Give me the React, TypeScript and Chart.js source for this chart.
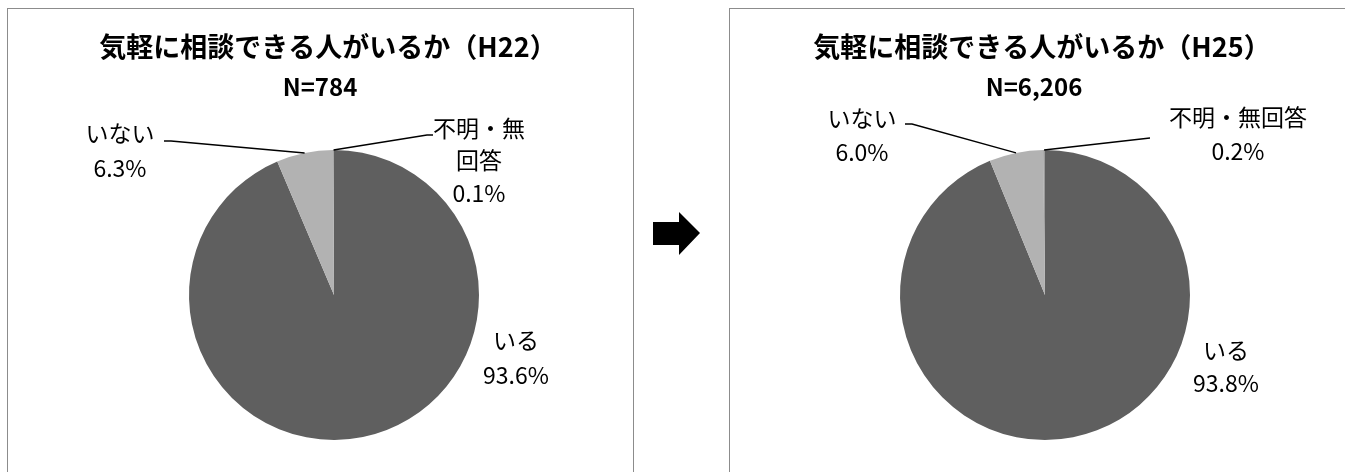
import React, { useEffect, useRef } from "react";
import { Chart, registerables } from "chart.js";

Chart.register(...registerables);

// ---- data ----
const categories = ["いる", "いない", "不明・無回答"];
const valuesH22 = [93.6, 6.3, 0.1];
const valuesH25 = [93.8, 6.0, 0.2];
const labelTextH22 = [["いる", "93.6%"], ["いない", "6.3%"], ["不明・無", "回答", "0.1%"]];
const labelTextH25 = [["いる", "93.8%"], ["いない", "6.0%"], ["不明・無回答", "0.2%"]];
const titleH22 = "気軽に相談できる人がいるか（H22）";
const titleH25 = "気軽に相談できる人がいるか（H25）";
const sampleH22 = "N=784";
const sampleH25 = "N=6,206";

const sliceColors = ["#5f5f5f", "#b2b2b2", "#9a9a9a"];
const FONT = "'Noto Sans CJK JP', 'Noto Sans', sans-serif";

type LabelLayout = { dx: number; dy: number; lh: number; leader?: number[][] };

type PieSpec = {
  title: string;
  sample: string;
  values: number[];
  labels: string[][];
  titleX: number;
  nX: number;
  titleY: number;
  nY: number;
  layout: LabelLayout[];
  padding: { left: number; right: number; top: number; bottom: number };
  width: number;
  height: number;
  left: number;
  top: number;
};

const overlayPlugin = {
  id: "overlay",
  afterDraw(chart: any) {
    const spec: PieSpec = chart.options.plugins.overlay.spec;
    const ctx = chart.ctx;
    const meta = chart.getDatasetMeta(0);
    const arc0 = meta.data[0];
    const cx = arc0.x;
    const cy = arc0.y;
    ctx.save();
    ctx.fillStyle = "#000";
    ctx.textAlign = "center";
    ctx.textBaseline = "middle";
    ctx.font = `bold 27px ${FONT}`;
    ctx.fillText(spec.title, spec.titleX, spec.titleY);
    ctx.font = `bold 24px ${FONT}`;
    ctx.fillText(spec.sample, spec.nX, spec.nY);

    ctx.font = `23px ${FONT}`;
    spec.labels.forEach((lines, i) => {
      const L = spec.layout[i];
      lines.forEach((t, j) => {
        ctx.fillText(t, cx + L.dx, cy + L.dy + j * L.lh);
      });
      if (L.leader) {
        const arc = meta.data[i];
        const mid = (arc.startAngle + arc.endAngle) / 2;
        const r = arc.outerRadius;
        const ex = arc.x + r * Math.cos(mid);
        const ey = arc.y + r * Math.sin(mid);
        ctx.beginPath();
        ctx.strokeStyle = "#000";
        ctx.lineWidth = 1.3;
        L.leader.forEach((p, k) => {
          if (k === 0) ctx.moveTo(cx + p[0], cy + p[1]);
          else ctx.lineTo(cx + p[0], cy + p[1]);
        });
        ctx.lineTo(ex, ey);
        ctx.stroke();
      }
    });
    ctx.restore();
  },
};

const specs: PieSpec[] = [
  {
    title: titleH22,
    sample: sampleH22,
    values: valuesH22,
    labels: labelTextH22,
    titleX: 320,
    nX: 312,
    titleY: 38,
    nY: 78,
    layout: [
      { dx: 182, dy: 45, lh: 35 },
      { dx: -214, dy: -162, lh: 35, leader: [[-170, -154], [-163, -154]] },
      { dx: 145, dy: -167, lh: 32.5, leader: [[99, -160], [93, -160]] },
    ],
    padding: { left: 181, right: 154, top: 141, bottom: 32 },
    width: 625,
    height: 463,
    left: 8,
    top: 9,
  },
  {
    title: titleH25,
    sample: sampleH25,
    values: valuesH25,
    labels: labelTextH25,
    titleX: 312,
    nX: 304,
    titleY: 38,
    nY: 78,
    layout: [
      { dx: 181, dy: 55, lh: 33 },
      { dx: -183, dy: -177, lh: 34, leader: [[-140, -171], [-133, -171]] },
      { dx: 193, dy: -178, lh: 34, leader: [[105, -157]] },
    ],
    padding: { left: 170, right: 155, top: 141, bottom: 32 },
    width: 615,
    height: 463,
    left: 730,
    top: 9,
  },
];

function PieChart({ spec }: { spec: PieSpec }) {
  const ref = useRef<HTMLCanvasElement | null>(null);
  useEffect(() => {
    if (!ref.current) return;
    const chart = new Chart(ref.current, {
      type: "pie",
      data: {
        labels: categories,
        datasets: [
          {
            data: spec.values,
            backgroundColor: sliceColors,
            borderWidth: 0,
            hoverOffset: 0,
            offset: 0,
          },
        ],
      },
      options: {
        responsive: false,
        animation: false,
        layout: { padding: spec.padding },
        plugins: {
          legend: { display: false },
          title: { display: false },
          tooltip: { enabled: false },
          overlay: { spec },
        } as any,
      },
      plugins: [overlayPlugin],
    });
    return () => chart.destroy();
  }, [spec]);
  return (
    <canvas
      ref={ref}
      width={spec.width}
      height={spec.height}
      style={{ position: "absolute", left: spec.left, top: spec.top, width: spec.width, height: spec.height }}
    />
  );
}

export default function App() {
  return (
    <div
      style={{
        position: "fixed",
        left: 0,
        top: 0,
        width: 1345,
        height: 472,
        overflow: "hidden",
        background: "#fff",
      }}
    >
      <div
        style={{
          position: "absolute",
          left: 7,
          top: 8,
          width: 627,
          height: 480,
          border: "1px solid #8c8c8c",
          boxSizing: "border-box",
        }}
      />
      <div
        style={{
          position: "absolute",
          left: 729,
          top: 8,
          width: 700,
          height: 480,
          border: "1px solid #8c8c8c",
          boxSizing: "border-box",
        }}
      />
      <svg style={{ position: "absolute", left: 650, top: 210, width: 52, height: 48 }} viewBox="0 0 52 48">
        <polygon points="3,12 29,12 29,2 50,23 29,45 29,35 3,35" fill="#000" />
      </svg>
      {specs.map((s, i) => (
        <PieChart key={i} spec={s} />
      ))}
    </div>
  );
}
